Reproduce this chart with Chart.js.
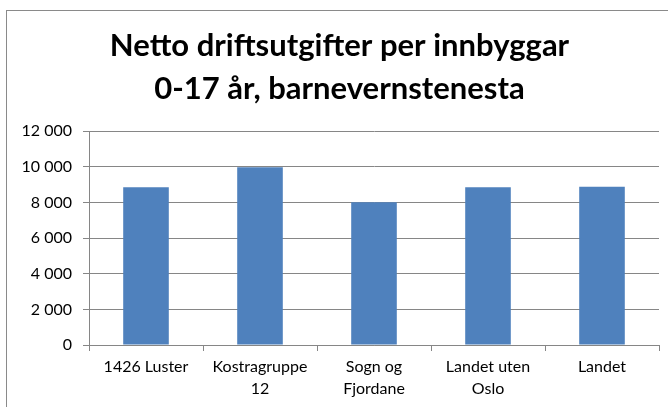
<!DOCTYPE html>
<html>
<head>
<meta charset="utf-8">
<script src="https://cdn.jsdelivr.net/npm/chart.js@4"></script>
<style>
  html, body { margin: 0; padding: 0; background: #fff; overflow: hidden; }
  #frame { position: absolute; left: 6px; top: 10px; width: 760px; height: 500px; border: 1px solid #8a8a8a; }
  #wrap { position: absolute; left: 0; top: 0; width: 668px; height: 407px; }
</style>
</head>
<body>
<div id="frame"></div>
<div id="wrap"><canvas id="chart"></canvas></div>
<script>
// categories (multi-line labels as in the original)
const categories = [
  ['1426 Luster'],
  ['Kostragruppe', '12'],
  ['Sogn og', 'Fjordane'],
  ['Landet uten', 'Oslo'],
  ['Landet']
];

// netto driftsutgifter per innbyggar 0-17 år
const values = [8850, 9970, 8010, 8850, 8880];

const titleLines = ['Netto driftsutgifter per innbyggar', '0-17 år, barnevernstenesta'];

const yMin = 0;
const yMax = 12000;
const yStep = 2000;

function spaced(v) {
  return String(v).replace(/\B(?=(\d{3})+(?!\d))/g, ' ');
}

const grey = '#868686';
const font = 'Lato, "Open Sans", sans-serif';

new Chart(document.getElementById('chart'), {
  type: 'bar',
  data: {
    labels: categories,
    datasets: [{
      data: values,
      backgroundColor: '#4F81BD',
      borderWidth: 0,
      categoryPercentage: 1,
      barPercentage: 0.4
    }]
  },
  options: {
    responsive: true,
    maintainAspectRatio: false,
    animation: false,
    // left padding only moves the title centre; axis width below keeps plot at x=89
    layout: { padding: { left: 20, right: 9, top: 0, bottom: 0 } },
    plugins: {
      legend: { display: false },
      tooltip: { enabled: false },
      title: {
        display: true,
        text: titleLines,
        color: '#000',
        font: { family: font, size: 31, weight: 'bold', lineHeight: 1.39 },
        padding: { top: 24, bottom: 21 }
      }
    },
    scales: {
      x: {
        grid: { drawOnChartArea: false, drawTicks: true, tickLength: 6, color: grey },
        border: { color: grey },
        ticks: { color: '#000', font: { family: font, size: 16, lineHeight: 1.38 }, padding: 5, maxRotation: 0, autoSkip: false },
        afterFit: s => { s.height = 62; }
      },
      y: {
        min: yMin,
        max: yMax,
        grid: { color: grey, tickLength: 6, drawTicks: true },
        border: { color: grey },
        ticks: { stepSize: yStep, color: '#000', font: { family: font, size: 16 }, padding: 11, callback: v => spaced(v) },
        afterFit: s => { s.width = 69; }
      }
    }
  }
});
</script>
</body>
</html>
